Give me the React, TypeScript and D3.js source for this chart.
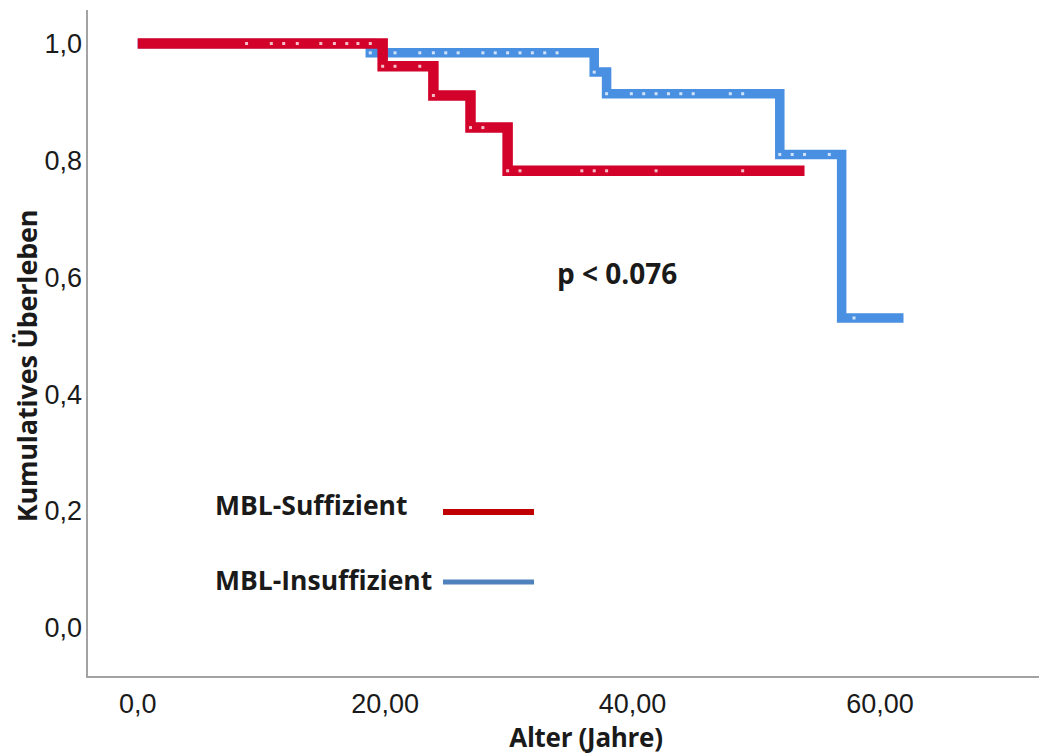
import React from "react";
import * as d3 from "d3";

// MBL-Suffizient (rot): Zeitpunkte der Stufen und Überlebensanteil danach
const sufTimes = [0, 19.8, 23.9, 26.9, 29.9, 53.9];
const sufSurvival = [1.0, 0.961, 0.911, 0.856, 0.782, 0.782];
const sufCensored = [
  8.8, 10.8, 11.8, 12.9, 14.8, 15.9, 16.9, 17.8, 18.8, 19.8, 20.8, 22.8, 23.9,
  26.9, 27.9, 29.9, 30.9, 35.9, 36.9, 37.9, 41.9, 48.9,
];

// MBL-Insuffizient (blau)
const insTimes = [0, 18.8, 36.9, 37.9, 51.9, 56.9, 61.9];
const insSurvival = [1.0, 0.984, 0.951, 0.914, 0.81, 0.53, 0.53];
const insCensored = [
  18.8, 20.8, 22.8, 23.9, 24.9, 25.9, 27.9, 28.9, 29.9, 30.9, 31.9, 32.9, 33.9,
  36.9, 37.9, 39.9, 40.9, 41.9, 42.9, 43.9, 44.9, 47.9, 48.9, 51.9, 52.9, 53.9,
  55.9, 57.9,
];

const xTicks = [0, 20, 40, 60];
const xTickLabels = ["0,0", "20,00", "40,00", "60,00"];
const yTicks = [0, 0.2, 0.4, 0.6, 0.8, 1.0];
const yTickLabels = ["0,0", "0,2", "0,4", "0,6", "0,8", "1,0"];

const legendLabels = ["MBL-Suffizient", "MBL-Insuffizient"];

export default function App() {
  const ref = React.useRef<SVGSVGElement>(null);
  const width = 1039;
  const height = 756;

  React.useEffect(() => {
    const svg = d3.select(ref.current);
    svg.selectAll("*").remove();

    const xScale = d3.scaleLinear().domain([0, 60]).range([137.7, 880]);
    const yScale = d3.scaleLinear().domain([0, 1]).range([627.5, 43.5]);

    const tickFont = "'Liberation Sans', Arial, sans-serif";
    const boldFont = "'Open Sans', 'Noto Sans', sans-serif";

    // Achsen
    svg
      .append("line")
      .attr("x1", 87)
      .attr("x2", 87)
      .attr("y1", 10)
      .attr("y2", 678)
      .attr("stroke", "#a3a3a3")
      .attr("stroke-width", 2);
    svg
      .append("line")
      .attr("x1", 86)
      .attr("x2", width)
      .attr("y1", 677)
      .attr("y2", 677)
      .attr("stroke", "#a3a3a3")
      .attr("stroke-width", 2);

    svg
      .append("g")
      .selectAll("text")
      .data(yTicks)
      .enter()
      .append("text")
      .attr("x", 82)
      .attr("y", (d) => yScale(d))
      .attr("dy", "0.36em")
      .attr("text-anchor", "end")
      .style("font-family", tickFont)
      .style("font-size", "27px")
      .style("fill", "#1a1a1a")
      .text((d, i) => yTickLabels[i]);

    svg
      .append("g")
      .selectAll("text")
      .data(xTicks)
      .enter()
      .append("text")
      .attr("x", (d) => xScale(d))
      .attr("y", 713)
      .attr("text-anchor", "middle")
      .style("font-family", tickFont)
      .style("font-size", "27px")
      .style("fill", "#1a1a1a")
      .text((d, i) => xTickLabels[i]);

    svg
      .append("text")
      .attr("x", 586)
      .attr("y", 747)
      .attr("text-anchor", "middle")
      .style("font-family", boldFont)
      .style("font-weight", "bold")
      .style("font-size", "26px")
      .style("letter-spacing", "-0.3px")
      .style("fill", "#1a1a1a")
      .text("Alter (Jahre)");

    svg
      .append("text")
      .attr("transform", "translate(37, 366) rotate(-90)")
      .attr("text-anchor", "middle")
      .style("font-family", boldFont)
      .style("font-weight", "bold")
      .style("font-size", "27px")
      .style("letter-spacing", "-0.2px")
      .style("fill", "#1a1a1a")
      .text("Kumulatives Überleben");

    // Kurven
    const line = d3
      .line<[number, number]>()
      .x((d) => xScale(d[0]))
      .y((d) => yScale(d[1]))
      .curve(d3.curveStepAfter);

    const stepAt = (times: number[], surv: number[], t: number) => {
      let idx = 0;
      times.forEach((tt, i) => {
        if (tt <= t) idx = i;
      });
      return surv[idx];
    };

    const series = [
      { times: insTimes, surv: insSurvival, cens: insCensored, color: "#4a90e2", w: 9.5 },
      { times: sufTimes, surv: sufSurvival, cens: sufCensored, color: "#d2022a", w: 10.5 },
    ];

    series.forEach((s) => {
      const pts = s.times.map((t, i) => [t, s.surv[i]] as [number, number]);
      svg
        .append("path")
        .attr("d", line(pts))
        .attr("fill", "none")
        .attr("stroke", s.color)
        .attr("stroke-width", s.w)
        .attr("stroke-linejoin", "miter");

      svg
        .append("g")
        .selectAll("rect")
        .data(s.cens)
        .enter()
        .append("rect")
        .attr("x", (d) => xScale(d) - 1.5)
        .attr("y", (d) => yScale(stepAt(s.times, s.surv, d)) - 1.5)
        .attr("width", 3)
        .attr("height", 3)
        .attr("fill", "#ffffff")
        .attr("opacity", 0.75);
    });

    // p-Wert
    svg
      .append("text")
      .attr("x", 557)
      .attr("y", 284)
      .style("font-family", boldFont)
      .style("font-weight", "bold")
      .style("font-size", "28px")
      .style("fill", "#1a1a1a")
      .text("p < 0.076");

    // Legende
    const legendColors = ["#c00000", "#4f81bd"];
    const legendY = [512, 582];
    const legend = svg
      .append("g")
      .selectAll("g")
      .data(legendLabels)
      .enter()
      .append("g")
      .attr("transform", (d, i) => `translate(0, ${legendY[i]})`);

    legend
      .append("text")
      .attr("x", 215)
      .attr("y", (d, i) => (i === 0 ? 3 : 8))
      .style("font-family", boldFont)
      .style("font-weight", "bold")
      .style("font-size", "26.5px")
      .style("fill", "#1a1a1a")
      .text((d) => d);

    legend
      .append("line")
      .attr("x1", 443)
      .attr("x2", 534)
      .attr("y1", 0)
      .attr("y2", 0)
      .attr("stroke", (d, i) => legendColors[i])
      .attr("stroke-width", (d, i) => (i === 0 ? 6 : 5));
  }, []);

  return (
    <svg
      ref={ref}
      width={width}
      height={height}
      style={{ position: "absolute", left: 0, top: 0, background: "#fff" }}
    />
  );
}
